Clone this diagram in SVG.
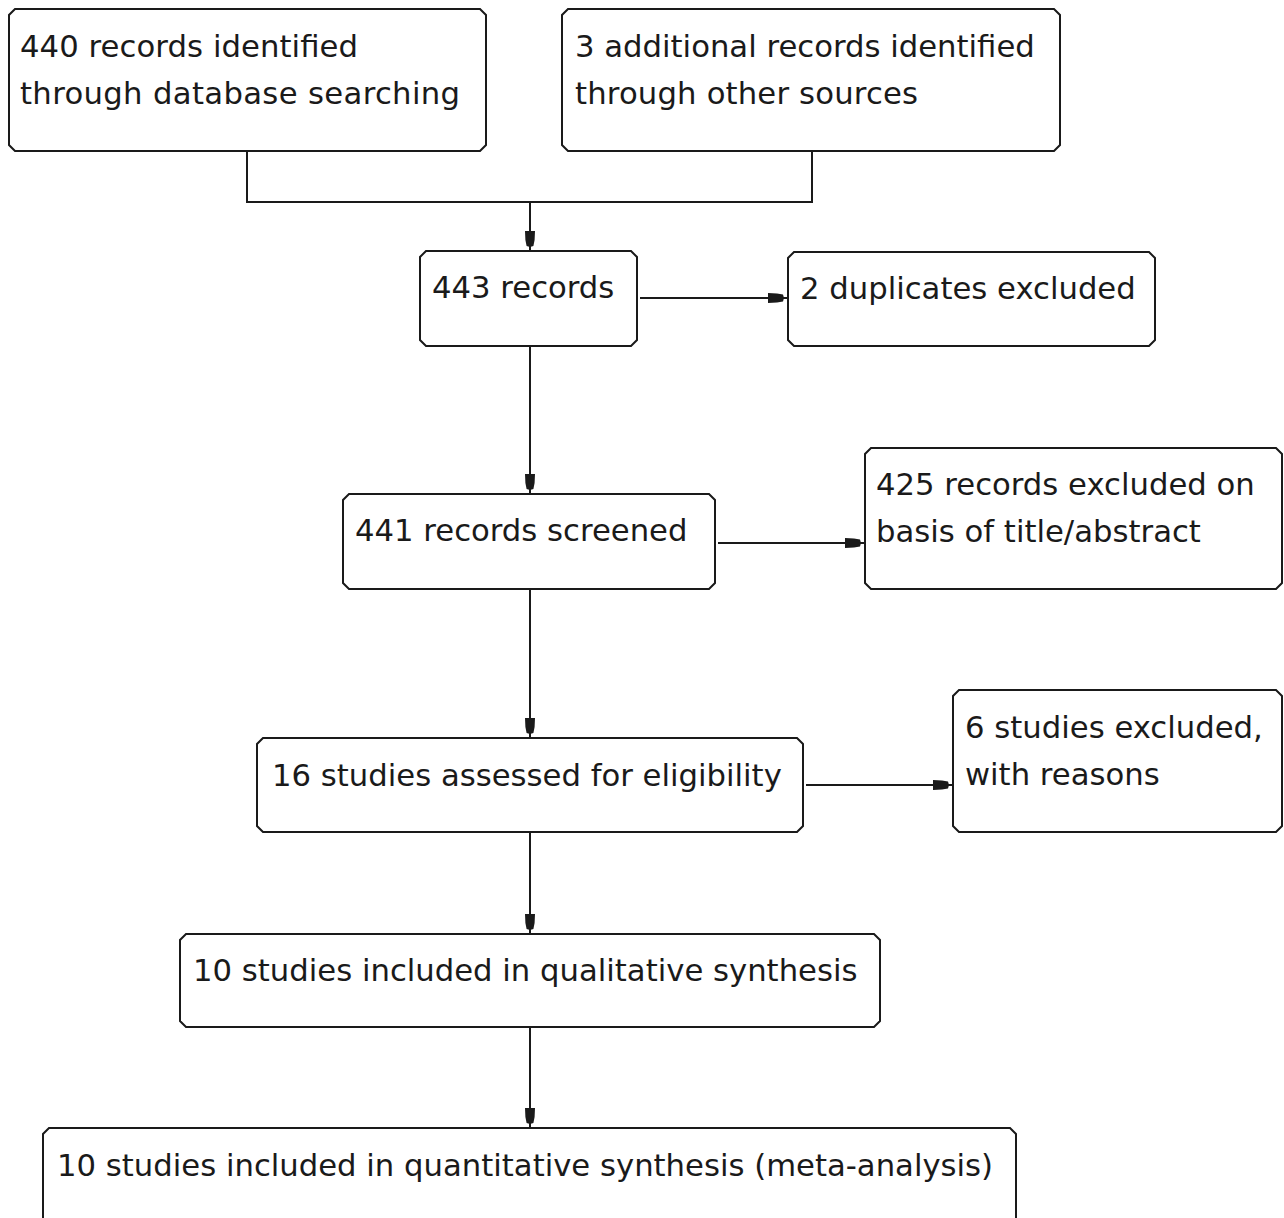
<svg xmlns="http://www.w3.org/2000/svg" width="1284" height="1218" viewBox="0 0 1284 1218">
<style>
.box{fill:#fff;stroke:#1a1a1a;stroke-width:2}
.t{font-family:"DejaVu Sans","Liberation Sans",sans-serif;font-size:30.7px;fill:#1a1a1a}
.c{fill:none;stroke:#1a1a1a;stroke-width:2}
</style>
<defs>
<marker id="ah" markerUnits="userSpaceOnUse" markerWidth="30" markerHeight="20" refX="0" refY="0" viewBox="-24 -10 30 20" orient="auto" overflow="visible">
<path d="M-20,-5 L-11,-4.6 L-5,-3.4 L-4,0 L-5,3.4 L-11,4.6 L-20,5 Z M-5,-1 L0,-1 L0,1 L-5,1 Z" fill="#1a1a1a"/>
</marker>
</defs>
<rect width="1284" height="1218" fill="#fff"/>
<g id="connectors">
<path class="c" d="M247,151 V202 H812 V151"/>
<path class="c" d="M530,202 V251" marker-end="url(#ah)"/>
<path class="c" d="M640,298 H788" marker-end="url(#ah)"/>
<path class="c" d="M530,346 V494" marker-end="url(#ah)"/>
<path class="c" d="M718,543 H865" marker-end="url(#ah)"/>
<path class="c" d="M530,589 V738" marker-end="url(#ah)"/>
<path class="c" d="M806,785 H953" marker-end="url(#ah)"/>
<path class="c" d="M530,832 V934" marker-end="url(#ah)"/>
<path class="c" d="M530,1027 V1128" marker-end="url(#ah)"/>
</g>
<g id="n1">
<path class="box" d="M15,9 H480 L486,15 V145 L480,151 H15 L9,145 V15 Z"/>
<text class="t" x="20" y="57" textLength="338">440 records identified</text>
<text class="t" x="20" y="104" textLength="440">through database searching</text>
</g>
<g id="n2">
<path class="box" d="M568,9 H1054 L1060,15 V145 L1054,151 H568 L562,145 V15 Z"/>
<text class="t" x="575" y="57">3 additional records identified</text>
<text class="t" x="575" y="104" textLength="343">through other sources</text>
</g>
<g id="n3">
<path class="box" d="M426,251 H631 L637,257 V340 L631,346 H426 L420,340 V257 Z"/>
<text class="t" x="432" y="298">443 records</text>
</g>
<g id="n4">
<path class="box" d="M794,252 H1149 L1155,258 V340 L1149,346 H794 L788,340 V258 Z"/>
<text class="t" x="800" y="299">2 duplicates excluded</text>
</g>
<g id="n5">
<path class="box" d="M349,494 H709 L715,500 V583 L709,589 H349 L343,583 V500 Z"/>
<text class="t" x="355" y="541">441 records screened</text>
</g>
<g id="n6">
<path class="box" d="M871,448 H1276 L1282,454 V583 L1276,589 H871 L865,583 V454 Z"/>
<text class="t" x="876" y="495">425 records excluded on</text>
<text class="t" x="876" y="542">basis of title/abstract</text>
</g>
<g id="n7">
<path class="box" d="M263,738 H797 L803,744 V826 L797,832 H263 L257,826 V744 Z"/>
<text class="t" x="272" y="786">16 studies assessed for eligibility</text>
</g>
<g id="n8">
<path class="box" d="M959,690 H1276 L1282,696 V826 L1276,832 H959 L953,826 V696 Z"/>
<text class="t" x="965" y="738">6 studies excluded,</text>
<text class="t" x="965" y="785">with reasons</text>
</g>
<g id="n9">
<path class="box" d="M186,934 H874 L880,940 V1021 L874,1027 H186 L180,1021 V940 Z"/>
<text class="t" x="193" y="981">10 studies included in qualitative synthesis</text>
</g>
<g id="n10">
<path class="box" d="M49,1128 H1010 L1016,1134 V1240 H43 V1134 Z"/>
<text class="t" x="57" y="1176">10 studies included in quantitative synthesis (meta-analysis)</text>
</g>
</svg>
